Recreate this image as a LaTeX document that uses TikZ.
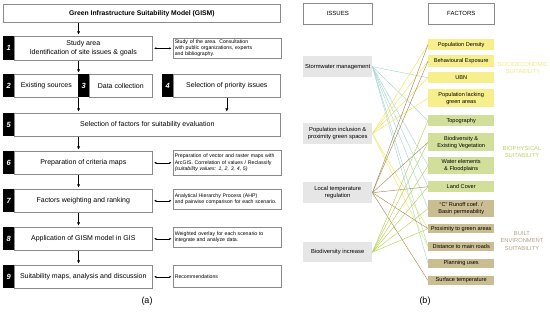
\documentclass[tikz,border=0pt]{standalone}
\usepackage{fontspec}
\setmainfont{Liberation Sans}
\usetikzlibrary{arrows.meta,calc}
\definecolor{boxgray}{HTML}{8A8A8A}
\definecolor{issuefill}{HTML}{E6E6E6}
\definecolor{socfill}{HTML}{F7EF8C}
\definecolor{biofill}{HTML}{D2DF9A}
\definecolor{bltfill}{HTML}{CBBD92}
\definecolor{soctext}{HTML}{F0E682}
\definecolor{biotext}{HTML}{C2D166}
\definecolor{blttext}{HTML}{B0A486}
\definecolor{lteal}{HTML}{A6D6D4}
\definecolor{lyellow}{HTML}{F3E45C}
\definecolor{lbrown}{HTML}{A68E5A}
\definecolor{lgreen}{HTML}{B8D25A}
\begin{document}
\begin{tikzpicture}[x=1pt,y=-1pt,
  stepbox/.style={draw=boxgray, line width=0.6pt, fill=white, anchor=north west, inner sep=0pt, minimum height=23pt, align=center, font=\fontsize{7}{8.6}\selectfont},
  numbox/.style={fill=black, text=white, anchor=north west, inner sep=0pt, minimum width=11pt, minimum height=23pt, font=\bfseries\itshape\fontsize{7.5}{8}\selectfont},
  notebox/.style={draw=boxgray, line width=0.5pt, fill=white, anchor=north west, inner xsep=1.5pt, inner ysep=0pt, minimum width=108pt, text width=105pt, align=left, font=\fontsize{5.2}{6.2}\selectfont},
  arr/.style={-{Latex[length=3.2pt,width=3.2pt]}, line width=0.5pt, shorten >=1.5pt},
  dbl/.style={{Latex[length=2.2pt,width=2.2pt]}-{Latex[length=2.2pt,width=2.2pt]}, line width=0.4pt, shorten <=1.5pt, shorten >=1.5pt},
  hdrbox/.style={draw=boxgray, line width=0.6pt, fill=white, anchor=north west, minimum width=69pt, minimum height=21pt, inner sep=0pt, font=\fontsize{6}{7}\selectfont},
  issue/.style={fill=issuefill, anchor=north west, minimum width=69pt, inner sep=0pt, align=center, font=\fontsize{5.8}{7.3}\selectfont},
  factor/.style={anchor=north west, minimum width=66pt, inner sep=0pt, align=center, font=\fontsize{5.6}{7}\selectfont},
  grp/.style={align=center, font=\fontsize{5.8}{7.2}\selectfont},
  lnk/.style={line width=0.45pt}
]
\useasboundingbox (0,0) rectangle (550,317);

% ---------- panel (a) ----------
\node[draw=boxgray, line width=0.8pt, anchor=north west, minimum width=277pt, minimum height=18pt, inner sep=0pt, font=\bfseries\fontsize{6.8}{8}\selectfont] (title) at (3,4) {Green Infrastructure Suitability Model (GISM)};

\node[numbox, minimum height=24pt] (n1) at (3,36) {1};
\node[stepbox, minimum width=138pt, minimum height=24pt] (s1) at (14,36) {Study area\\Identification of site issues \& goals};
\node[notebox, minimum height=20pt] (t1) at (173,38) {\mbox{Study of the area. Consultation}\\\mbox{with public organizations, experts}\\\mbox{and bibliography.}};

\node[numbox] (n2) at (3,74) {2};
\node[stepbox, minimum width=64pt] (s2) at (14,74) {Existing sources};
\node[numbox] (n3) at (78,74) {3};
\node[stepbox, minimum width=63pt] (s3) at (89,74) {Data collection};
\node[numbox] (n4) at (162,74) {4};
\node[stepbox, minimum width=107pt] (s4) at (173,74) {Selection of priority issues};

\node[numbox] (n5) at (3,113) {5};
\node[stepbox, minimum width=266pt] (s5) at (14,113) {Selection of factors for suitability evaluation};

\node[numbox] (n6) at (3,151) {6};
\node[stepbox, minimum width=138pt] (s6) at (14,151) {Preparation of criteria maps};
\node[notebox, minimum height=25pt] (t6) at (173,150) {\mbox{Preparation of vector and raster maps with}\\\mbox{ArcGIS. Correlation of values / Reclassify}\\\mbox{\itshape (suitability values: 1, 2, 3, 4, 5)}};

\node[numbox] (n7) at (3,189) {7};
\node[stepbox, minimum width=138pt] (s7) at (14,189) {Factors weighting and ranking};
\node[notebox, minimum height=20pt] (t7) at (173,189) {\mbox{Analytical Hierarchy Process (AHP)}\\\mbox{and pairwise comparison for each scenario.}};

\node[numbox] (n8) at (3,227) {8};
\node[stepbox, minimum width=138pt] (s8) at (14,227) {Application of GISM model in GIS};
\node[notebox, minimum height=20pt] (t8) at (173,227) {\mbox{Weighted overlay for each scenario to}\\\mbox{integrate and analyze data.}};

\node[numbox] (n9) at (3,265) {9};
\node[stepbox, minimum width=138pt] (s9) at (14,265) {Suitability maps, analysis and discussion};
\node[notebox, minimum height=22pt] (t9) at (173,265) {Recommendations\\[9pt]};

% vertical arrows
\draw[arr] (title.south -| s2.east) -- (s1.north -| s2.east);
\draw[arr] (s1.south -| s2.east) -- (s2.north east);
\draw[arr] (s2.south east) -- (s5.north -| s2.east);
\draw[arr] (s4.south) -- (s5.north -| s4.south);
\draw[arr] (s5.south -| s2.east) -- (s6.north -| s2.east);
\draw[arr] (s6.south -| s2.east) -- (s7.north -| s2.east);
\draw[arr] (s7.south -| s2.east) -- (s8.north -| s2.east);
\draw[arr] (s8.south -| s2.east) -- (s9.north -| s2.east);
% double arrows
\draw[dbl] (s1.east) -- (s1.east -| t1.west);
\draw[dbl] (s6.east) -- (s6.east -| t6.west);
\draw[dbl] (s7.east) -- (s7.east -| t7.west);
\draw[dbl] (s8.east) -- (s8.east -| t8.west);
\draw[dbl] (s9.east) -- (s9.east -| t9.west);

\node[font=\rmfamily\fontsize{9}{10}\selectfont] (capa) at (147,301) {(a)};

% ---------- panel (b) ----------
\node[hdrbox] (hi) at (303,3) {ISSUES};
\node[hdrbox, minimum width=66pt] (hf) at (428,3) {FACTORS};

\node[issue, minimum height=21pt] (i1) at (303,56) {Stormwater management};
\node[issue, minimum height=21pt] (i2) at (303,123) {Population inclusion \&\\proximity green spaces};
\node[issue, minimum height=21pt] (i3) at (303,182) {Local temperature\\regulation};
\node[issue, minimum height=20pt] (i4) at (303,242) {Biodiversity increase};

\node[factor, fill=socfill, minimum height=11pt] (f1) at (428,39) {Population Density};
\node[factor, fill=socfill, minimum height=12pt] (f2) at (428,55) {Behavioural Exposure};
\node[factor, fill=socfill, minimum height=11pt] (f3) at (428,72) {UBN};
\node[factor, fill=socfill, minimum height=18pt] (f4) at (428,89) {Population lacking\\green areas};
\node[factor, fill=biofill, minimum height=11pt] (f5) at (428,115) {Topography};
\node[factor, fill=biofill, minimum height=18pt] (f6) at (428,133) {Biodiversity \&\\Existing Vegetation};
\node[factor, fill=biofill, minimum height=17pt] (f7) at (428,157) {Water elements\\\& Floodplains};
\node[factor, fill=biofill, minimum height=11pt] (f8) at (428,181) {Land Cover};
\node[factor, fill=bltfill, minimum height=17pt] (f9) at (428,200) {``C'' Runoff coef. /\\Basin permeability};
\node[factor, fill=bltfill, minimum height=9pt] (f10) at (428,224) {Proximity to green areas};
\node[factor, fill=bltfill, minimum height=8.5pt] (f11) at (428,242) {Distance to main roads};
\node[factor, fill=bltfill, minimum height=8.5pt] (f12) at (428,259) {Planning uses};
\node[factor, fill=bltfill, minimum height=8.5pt] (f13) at (428,276) {Surface temperature};

\node[grp, text=soctext] (g1) at (523,68) {SOCIOECONOMIC\\SUITABILITY};
\node[grp, text=biotext] (g2) at (522,152) {BIOPHYSICAL\\SUITABILITY};
\node[grp, text=blttext] (g3) at (522,241) {BUILT\\ENVIRONMENT\\SUITABILITY};

% links
\foreach \f in {f3,f5,f7,f8,f9,f11,f12} \draw[lnk, lteal] (i1.east) -- (\f.west);
\foreach \f in {f1,f2,f3,f4,f10,f11} \draw[lnk, lyellow] (i2.east) -- (\f.west);
\foreach \f in {f1,f2,f6,f8,f10,f13} \draw[lnk, lbrown] (i3.east) -- (\f.west);
\foreach \f in {f5,f6,f7,f8,f9,f10} \draw[lnk, lgreen] (i4.east) -- (\f.west);

\node[font=\rmfamily\fontsize{9}{10}\selectfont] (capb) at (425,301) {(b)};
\end{tikzpicture}
\end{document}
